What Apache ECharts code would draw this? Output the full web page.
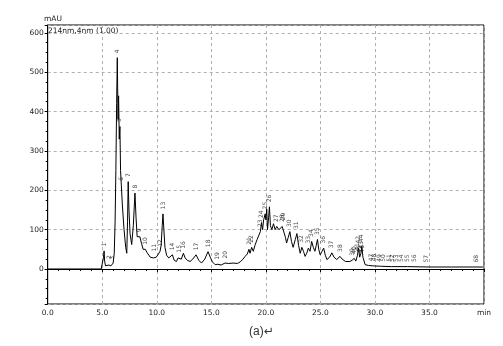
<!DOCTYPE html>
<html>
<head>
<meta charset="utf-8">
<script src="https://cdn.jsdelivr.net/npm/echarts@6/dist/echarts.min.js"></script>
<style>html,body{margin:0;padding:0;background:#fff}#c{width:503px;height:346px}</style>
</head>
<body>
<div id="c"></div>
<script>
// Retention time (min) and absorbance (mAU)
var times = [0, 4.9, 5.05, 5.12, 5.17, 5.22, 5.3, 5.45, 5.6, 5.7, 5.8, 5.9, 6.0, 6.1, 6.18, 6.25, 6.32, 6.38, 6.45, 6.5, 6.56, 6.62, 6.68, 6.75, 6.85, 7.0, 7.15, 7.25, 7.32, 7.38, 7.45, 7.55, 7.7, 7.85, 8.0, 8.1, 8.2, 8.3, 8.45, 8.6, 8.75, 8.95, 9.1, 9.4, 9.7, 9.8, 9.95, 10.15, 10.3, 10.4, 10.5, 10.57, 10.65, 10.75, 10.9, 11.1, 11.25, 11.43, 11.6, 11.8, 11.95, 12.1, 12.25, 12.44, 12.6, 12.8, 13.05, 13.3, 13.6, 13.85, 14.1, 14.4, 14.7, 14.9, 15.1, 15.35, 15.6, 15.9, 16.25, 16.6, 17.0, 17.4, 17.65, 17.9, 18.1, 18.3, 18.45, 18.55, 18.7, 18.85, 19.0, 19.2, 19.35, 19.5, 19.6, 19.7, 19.8, 19.94, 20.0, 20.08, 20.15, 20.25, 20.33, 20.42, 20.55, 20.7, 20.85, 21.0, 21.2, 21.35, 21.5, 21.65, 21.8, 21.9, 22.05, 22.2, 22.35, 22.5, 22.7, 22.85, 23.0, 23.15, 23.3, 23.45, 23.6, 23.75, 23.9, 24.05, 24.2, 24.35, 24.5, 24.62, 24.73, 24.85, 24.98, 25.15, 25.3, 25.45, 25.6, 25.85, 26.05, 26.25, 26.5, 26.8, 27.0, 27.3, 27.7, 27.9, 28.1, 28.25, 28.4, 28.5, 28.6, 28.72, 28.8, 28.9, 29.1, 29.4, 29.8, 30.5, 31.5, 33.0, 35.0, 37.0, 39.0, 39.9];
var absorb = [0, 0, 2, 30, 46, 20, 8, 6, 10, 14, 8, 12, 15, 40, 120, 250, 420, 537, 380, 440, 330, 362, 250, 213, 160, 100, 55, 40, 120, 222, 150, 90, 62, 110, 193, 130, 82, 78, 82, 65, 50, 50, 42, 30, 28, 33, 30, 38, 45, 60, 110, 140, 100, 55, 35, 28, 30, 36, 22, 19, 28, 30, 25, 40, 28, 22, 19, 25, 36, 22, 15, 25, 44, 30, 18, 11, 12, 10, 15, 14, 15, 14, 18, 25, 32, 38, 50, 40, 55, 45, 60, 75, 70, 95, 118, 100, 125, 140, 125, 152, 100, 130, 158, 110, 100, 115, 100, 108, 100, 95, 108, 112, 80, 66, 80, 95, 70, 55, 75, 90, 60, 40, 55, 45, 32, 40, 53, 45, 70, 55, 45, 60, 75, 50, 36, 45, 53, 35, 24, 30, 41, 30, 24, 32, 25, 19, 19, 22, 27, 20, 35, 53, 30, 40, 57, 30, 11, 9, 8, 7, 6, 6, 5, 5, 5, 5];

// Peak numbers with their retention time and height
var peakNo = ['1', '2', '3', '4', '5', '6', '7', '8', '9', '10', '11', '12', '13', '14', '15', '16', '17', '18', '19', '20', '21', '22', '23', '24', '25', '26', '27', '28', '29', '30', '31', '32', '33', '34', '35', '36', '37', '38', '39', '40', '41', '42', '43', '44', '45', '46', '47', '48', '49', '50', '51', '52', '53', '54', '55', '56', '57', '68'];
var peakTime = [5.17, 5.7, 5.9, 6.38, 6.62, 6.75, 7.38, 8.0, 8.45, 8.95, 9.8, 10.3, 10.57, 11.43, 12.1, 12.44, 13.6, 14.7, 15.6, 16.25, 18.45, 18.7, 19.5, 19.6, 19.94, 20.33, 21.0, 21.5, 21.65, 22.2, 22.85, 23.3, 23.9, 24.2, 24.73, 25.3, 26.05, 26.8, 27.9, 28.1, 28.4, 28.5, 28.72, 28.8, 28.6, 28.9, 29.7, 30.0, 30.4, 30.8, 31.3, 31.6, 32.0, 32.4, 33.0, 33.6, 34.7, 39.3];
var peakHeight = [46, 14, 12, 537, 362, 213, 222, 193, 82, 50, 33, 45, 140, 36, 30, 40, 36, 44, 12, 15, 50, 55, 95, 118, 140, 158, 108, 108, 112, 95, 90, 55, 53, 70, 75, 53, 41, 32, 22, 27, 35, 53, 40, 57, 30, 30, 8, 8, 7, 7, 7, 6, 6, 6, 6, 6, 5, 5];

var xTicks = ['0.0', '5.0', '10.0', '15.0', '20.0', '25.0', '30.0', '35.0', 'min'];

var trace = times.map(function (t, i) { return [t, absorb[i]]; });
var peaks = peakTime.map(function (t, i) { return [t, peakHeight[i], peakNo[i]]; });

var chart = echarts.init(document.getElementById('c'), null, {renderer: 'canvas'});
var FONT = 'DejaVu Sans';
chart.setOption({
  animation: false,
  backgroundColor: '#fff',
  grid: {left: 47.7, right: 19, top: 25, bottom: 42, show: true, borderColor: '#000', borderWidth: 1, backgroundColor: 'transparent'},
  xAxis: {
    type: 'value', min: 0, max: 40, interval: 5,
    axisLine: {lineStyle: {color: '#000', width: 1}},
    axisTick: {show: true, inside: false, length: 3, lineStyle: {color: '#000'}},
    minorTick: {show: true, splitNumber: 5, length: 2, lineStyle: {color: '#000'}},
    splitLine: {show: true, lineStyle: {color: '#b0b0b0', type: [3, 3], width: 1}},
    axisLabel: {
      fontFamily: FONT, fontSize: 7.5, color: '#222', margin: 5,
      formatter: function (v) { return xTicks[Math.round(v / 5)]; }
    }
  },
  yAxis: {
    type: 'value', min: -89, max: 620, splitNumber: 7,
    axisLine: {show: true, lineStyle: {color: '#000', width: 1}},
    axisTick: {show: true, inside: false, length: 3, lineStyle: {color: '#000'}},
    minorTick: {show: true, splitNumber: 4, length: 2, lineStyle: {color: '#000'}},
    splitLine: {show: true, lineStyle: {color: '#b0b0b0', type: [3, 3], width: 1}},
    axisLabel: {
      fontFamily: FONT, fontSize: 7.5, color: '#222', margin: 4,
      showMinLabel: false, showMaxLabel: false,
      formatter: function (v) { return (v % 100 === 0) ? String(v) : ''; }
    }
  },
  series: [
    {
      type: 'line', data: trace, symbol: 'none', smooth: false,
      lineStyle: {color: '#000', width: 1}, z: 3
    },
    {
      type: 'scatter', data: peaks, symbolSize: 1, itemStyle: {color: 'rgba(0,0,0,0)'}, z: 4,
      label: {
        show: true, position: 'top', distance: 1, rotate: 90, align: 'left', verticalAlign: 'middle',
        offset: [3, 0], fontFamily: FONT, fontSize: 6, color: '#111',
        formatter: function (p) { return p.value[2]; }
      }
    }
  ],
  graphic: [
    {type: 'text', left: 44, top: 15, style: {text: 'mAU', font: '7.5px "DejaVu Sans"', fill: '#222'}},
    {type: 'text', left: 48, top: 27, style: {text: '214nm,4nm (1.00)', font: '7.5px "DejaVu Sans"', fill: '#222'}},
    {type: 'text', left: 249, top: 326, style: {text: '(a)\u21b5', font: '12px "Liberation Sans", "DejaVu Sans"', fill: '#333'}}
  ]
});
</script>
</body>
</html>
